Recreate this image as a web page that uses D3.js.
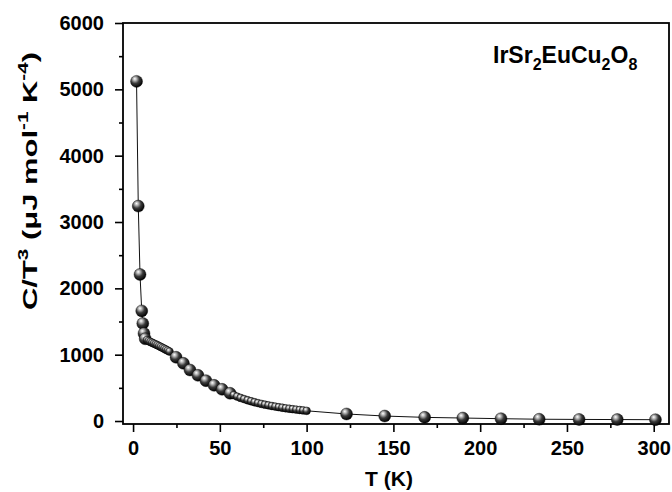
<!DOCTYPE html>
<html>
<head>
<meta charset="utf-8">
<script src="https://cdn.jsdelivr.net/npm/d3@7"></script>
<style>
  body { margin: 0; background: #fff; }
  text { font-family: "Liberation Sans", Arial, sans-serif; font-weight: bold; }
</style>
</head>
<body>
<div id="container"></div>
<script>
// big spheres (sparse measurements)
var bigT = [2, 3, 4, 5, 5.6, 6.3, 7, 24.8, 29, 32.8, 37.4, 42, 46.7, 51.3, 55.9,
            123, 145, 168, 190, 212, 234, 257, 279, 301];
var bigC = [5120, 3240, 2210, 1660, 1470, 1320, 1240, 961, 870, 769, 689, 608, 538, 478, 418,
            106, 75, 55, 45, 35, 27, 24, 22, 20];

// small spheres (dense runs)
var smallT = [8, 9, 10, 11, 12, 13, 14, 15, 16, 17, 18, 19, 20, 21,
              58, 60, 62, 64, 66, 68, 70, 72, 74, 76, 78, 80, 82, 84, 86, 88, 90, 92, 94, 96, 98, 100];
var smallC = [1220, 1205, 1192, 1180, 1168, 1156, 1143, 1130, 1117, 1103, 1090, 1076, 1062, 1047,
              390, 368, 348, 330, 313, 298, 283, 270, 258, 246, 236, 226, 217, 208, 200, 192, 185, 178, 172, 166, 160, 154];

var xTicks = [0, 50, 100, 150, 200, 250, 300];
var xMinor = [25, 75, 125, 175, 225, 275];
var yTicks = [0, 1000, 2000, 3000, 4000, 5000, 6000];
var yMinor = [500, 1500, 2500, 3500, 4500, 5500];

var width = 672, height = 492;
var plot = { left: 123, right: 669, top: 23, bottom: 424 };

var svg = d3.select("div#container")
    .append("svg")
    .attr("width", width)
    .attr("height", height);

var x = d3.scaleLinear()
    .domain([-5.8, 308.8])
    .range([plot.left, plot.right]);

var y = d3.scaleLinear()
    .domain([-45, 6000])
    .range([plot.bottom, plot.top]);

// sphere shading
var grad = svg.append("defs").append("radialGradient")
    .attr("id", "ball")
    .attr("cx", "40%").attr("cy", "35%")
    .attr("fx", "35%").attr("fy", "28%")
    .attr("r", "65%");
grad.append("stop").attr("offset", "0%").attr("stop-color", "#ffffff");
grad.append("stop").attr("offset", "22%").attr("stop-color", "#b8b8b8");
grad.append("stop").attr("offset", "55%").attr("stop-color", "#3a3a3a");
grad.append("stop").attr("offset", "100%").attr("stop-color", "#000000");

// axes
function styleAxis(g) {
    g.select(".domain").remove();
    g.selectAll("line").attr("stroke", "#000").attr("stroke-width", 1.6);
    g.selectAll("text").attr("fill", "#000").style("font-size", "20px");
}

svg.append("g")
    .attr("transform", "translate(0," + plot.bottom + ")")
    .call(d3.axisBottom(x).tickValues(xTicks).tickSize(8).tickPadding(9).tickFormat(d3.format("d")))
    .call(styleAxis);

svg.append("g")
    .attr("transform", "translate(0," + plot.bottom + ")")
    .call(d3.axisBottom(x).tickValues(xMinor).tickSize(4).tickFormat(""))
    .call(styleAxis);

svg.append("g")
    .attr("transform", "translate(" + plot.left + ",0)")
    .call(d3.axisLeft(y).tickValues(yTicks).tickSize(8).tickPadding(11).tickFormat(d3.format("d")))
    .call(styleAxis);

svg.append("g")
    .attr("transform", "translate(" + plot.left + ",0)")
    .call(d3.axisLeft(y).tickValues(yMinor).tickSize(4).tickFormat(""))
    .call(styleAxis);

// frame
svg.append("rect")
    .attr("x", plot.left)
    .attr("y", plot.top)
    .attr("width", plot.right - plot.left)
    .attr("height", plot.bottom - plot.top)
    .attr("fill", "none")
    .attr("stroke", "#000")
    .attr("stroke-width", 1.8);

// connecting line through all points, in T order
var all = bigT.map(function (t, i) { return { t: t, c: bigC[i], big: true }; })
    .concat(smallT.map(function (t, i) { return { t: t, c: smallC[i], big: false }; }))
    .sort(function (a, b) { return a.t - b.t; });

svg.append("path")
    .datum(all)
    .attr("fill", "none")
    .attr("stroke", "#111")
    .attr("stroke-width", 1)
    .attr("d", d3.line()
        .x(function (d) { return x(d.t); })
        .y(function (d) { return y(d.c); }));

svg.selectAll("circle.pt")
    .data(all)
    .enter()
    .append("circle")
    .attr("class", "pt")
    .attr("cx", function (d) { return x(d.t); })
    .attr("cy", function (d) { return y(d.c); })
    .attr("r", function (d) { return d.big ? 6 : 3.9; })
    .attr("fill", "url(#ball)")
    .attr("stroke", "#000")
    .attr("stroke-width", 0.4);

// axis titles
svg.append("text")
    .attr("x", (plot.left + plot.right) / 2 - 7)
    .attr("y", 486)
    .attr("text-anchor", "middle")
    .style("font-size", "21px")
    .text("T (K)");

var yl = svg.append("text")
    .attr("transform", "translate(37,181) rotate(-90)")
    .attr("text-anchor", "middle")
    .attr("textLength", 258)
    .attr("lengthAdjust", "spacingAndGlyphs")
    .style("font-size", "21px");
yl.append("tspan").text("C/T");
yl.append("tspan").attr("dy", -9).style("font-size", "14px").text("3");
yl.append("tspan").attr("dy", 9).text("  (\u03bcJ mol");
yl.append("tspan").attr("dy", -9).style("font-size", "14px").text("-1");
yl.append("tspan").attr("dy", 9).text(" K");
yl.append("tspan").attr("dy", -9).style("font-size", "14px").text("-4");
yl.append("tspan").attr("dy", 9).text(")");

// compound label
var lg = svg.append("text")
    .attr("x", 493)
    .attr("y", 63)
    .style("font-size", "23px");
lg.append("tspan").text("IrSr");
lg.append("tspan").attr("dy", 7).style("font-size", "16px").text("2");
lg.append("tspan").attr("dy", -7).text("EuCu");
lg.append("tspan").attr("dy", 7).style("font-size", "16px").text("2");
lg.append("tspan").attr("dy", -7).text("O");
lg.append("tspan").attr("dy", 7).style("font-size", "16px").text("8");
</script>
</body>
</html>
